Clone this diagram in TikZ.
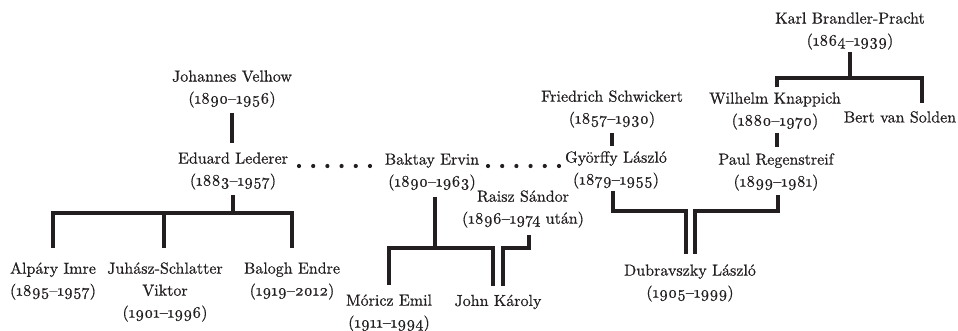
\RequirePackage{fix-cm}
\documentclass[tikz,border=0pt]{standalone}
\usepackage{fontspec}
\newfontfamily\pfont{lmroman10-regular.otf}[FakeBold=0.6,Ligatures=TeX]
\usetikzlibrary{calc,decorations.markings}
\definecolor{ink}{RGB}{35,31,32}
\newcommand{\yrs}[2]{(\oldstylenums{#1}\textendash\oldstylenums{#2})}
\begin{document}
\begin{tikzpicture}[x=1bp,y=-1bp,
  person/.style={align=center,inner sep=2bp,text=ink,font=\pfont\fontsize{16bp}{22bp}\selectfont},
  tree/.style={line width=4bp,draw=ink},
  dotline/.style={decoration={markings,mark=between positions 0 and 1 step 0.1999 with {\fill[ink] (0,0) circle (2.1bp);}},decorate}]
\useasboundingbox (0,0) rectangle (958,330);
% people
\node[person] (karl) at (850,31) {Karl Brandler-Pracht\\\yrs{1864}{1939}};
\node[person] (wilhelm) at (775,111) {Wilhelm Knappich\\\yrs{1880}{1970}};
\node[person] (bert) at (900,117) {Bert van Solden};
\node[person] (paul) at (776,172) {Paul Regenstreif\\\yrs{1899}{1981}};
\node[person] (friedrich) at (612,109) {Friedrich Schwickert\\\yrs{1857}{1930}};
\node[person] (gyorffy) at (616,170) {Györffy László\\\yrs{1879}{1955}};
\node[person] (dubr) at (690,283) {Dubravszky László\\\yrs{1905}{1999}};
\node[person] (johannes) at (232,89) {Johannes Velhow\\\yrs{1890}{1956}};
\node[person] (eduard) at (233,171) {Eduard Lederer\\\yrs{1883}{1957}};
\node[person] (baktay) at (432,172) {Baktay Ervin\\\yrs{1890}{1963}};
\node[person] (raisz) at (523,209) {Raisz Sándor\\(\oldstylenums{1896}\textendash\oldstylenums{1974} után)};
\node[person] (alpary) at (53,281) {Alpáry Imre\\\yrs{1895}{1957}};
\node[person] (juhasz) at (165,292) {Juhász-Schlatter\\Viktor\\\yrs{1901}{1996}};
\node[person] (balogh) at (292,281) {Balogh Endre\\\yrs{1919}{2012}};
\node[person] (moricz) at (389,313) {Móricz Emil\\\yrs{1911}{1994}};
\node[person] (john) at (498,302) {John Károly};
% junctions
\coordinate (barE) at (233,213);
\coordinate (barB) at (435,248);
\coordinate (barK) at (850,78);
\coordinate (barD) at (690,211);
\coordinate (dotsy) at (0,166);
% connectors
\draw[tree,shorten <=3bp,shorten >=7bp] (johannes.south) -- (johannes.south |- eduard.north);
\draw[tree,shorten <=3bp] (eduard.south) -- (barE);
\draw[tree,shorten <=12bp,shorten >=12bp] (alpary.north) |- (barE) -| (balogh.north);
\draw[tree,shorten <=12bp] ([xshift=-1bp]juhasz.north) -- ([xshift=-1bp]juhasz.north |- barE);
\draw[tree,shorten <=4bp] (baktay.south -| barB) -- (barB);
\draw[tree,shorten <=7bp,shorten >=7bp] (moricz.north) |- (barB) -| ([xshift=-5bp]john.north);
\draw[tree,shorten <=5bp,shorten >=7bp] ([xshift=6bp]raisz.south) |- ([xshift=5bp]john.north |- barB) -- ([xshift=5bp]john.north);
\draw[tree] (karl.south) -- (barK);
\draw[tree,shorten <=3bp,shorten >=6bp] ([xshift=2bp]wilhelm.north) |- (barK) -| ([xshift=22bp]bert.north);
\draw[tree,shorten <=1bp,shorten >=4bp] ([xshift=2bp]wilhelm.south) -- ([xshift=2bp]wilhelm.south |- paul.north);
\draw[tree,shorten <=3bp,shorten >=3bp] (friedrich.south) -- (friedrich.south |- gyorffy.north);
\draw[tree,shorten >=8bp] ([xshift=-3bp]gyorffy.south) |- ([xshift=-4.5bp]dubr.north |- barD) -- ([xshift=-4.5bp]dubr.north);
\draw[tree,shorten <=2bp,shorten >=8bp] ([xshift=2bp]paul.south) |- ([xshift=4.5bp]dubr.north |- barD) -- ([xshift=4.5bp]dubr.north);
\path[dotline] ([xshift=66bp]eduard.center |- dotsy) -- ([xshift=-62bp]baktay.center |- dotsy);
\path[dotline] ([xshift=56bp]baktay.center |- dotsy) -- ([xshift=-57bp]gyorffy.center |- dotsy);
\end{tikzpicture}
\end{document}
